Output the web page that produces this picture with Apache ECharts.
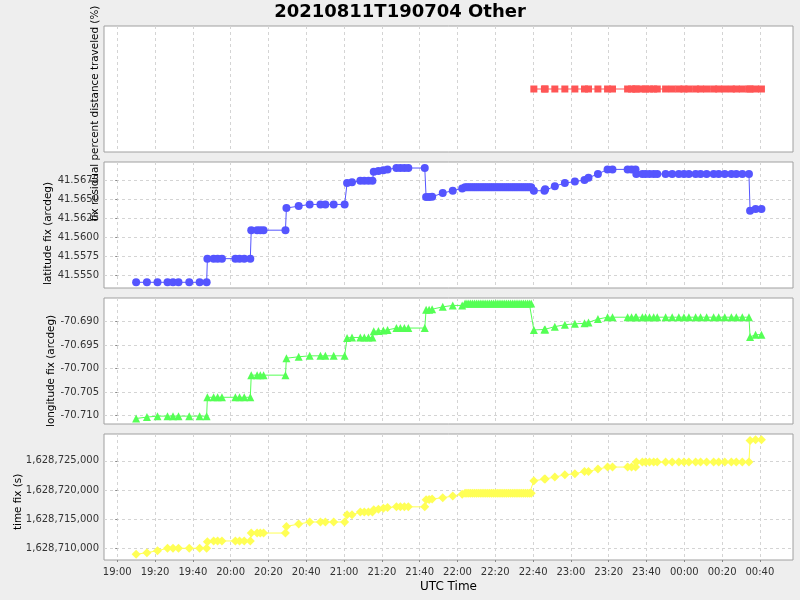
<!DOCTYPE html>
<html><head><meta charset="utf-8">
<script src="https://cdn.jsdelivr.net/npm/echarts@6/dist/echarts.min.js"></script>
<style>html,body{margin:0;padding:0;background:#eeeeee}#c{width:800px;height:600px}</style>
</head><body><div id="c"></div>
<script>
// record times in minutes after 2021-08-11 19:00 UTC
const times = [
  10, 15.7, 21.3, 26.6, 29.5, 32.4, 38.1, 43.6, 47.3,
  47.7, 51.0, 53.1, 55.4, 62.5, 64.7, 67.2, 70.4,
  70.9, 74.0, 75.7, 77.4, 89.0,
  89.5, 96.0, 101.8, 107.5, 110.1, 114.5, 120.3,
  121.6, 124.2, 128.6, 130.7, 132.9, 135.0,
  135.7, 138.2, 140.8, 143.0,
  147.7, 149.8, 151.9, 154.0, 162.7,
  163.4, 165.0, 166.6, 172.2, 177.5, 182.5,
  184, 185, 186, 187, 188, 189, 190, 191, 192, 193, 194, 195,
  196, 197, 198, 199, 200, 201, 202, 203, 204, 205, 206, 207,
  208, 209, 210, 211, 212, 213, 214, 215, 216, 217, 218, 219,
  220.4, 226.0, 226.4, 231.5, 236.8, 242.1, 247.2, 249.3, 254.3,
  259.4, 262.0, 270.0, 272.1, 274.2,
  274.6, 277.8, 279.5, 281.6, 283.8, 285.7, 290.1, 293.6, 297.1, 299.8, 302.4,
  306.0, 308.6, 311.8, 315.5, 318.2, 321.4, 324.9, 327.5, 330.7, 334.2,
  334.8, 337.7, 340.8
];
const latitude = [
  41.55408, 41.55408, 41.55408, 41.55408, 41.55408, 41.55408, 41.55408, 41.55408, 41.55408,
  41.55718, 41.55718, 41.55718, 41.55718, 41.55718, 41.55718, 41.55718, 41.55718,
  41.56092, 41.56092, 41.56092, 41.56092, 41.56092,
  41.56382, 41.56408, 41.5643, 41.5643, 41.5643, 41.5643, 41.5643,
  41.5671, 41.5672, 41.56741, 41.56741, 41.56741, 41.56741,
  41.5686, 41.5687, 41.5688, 41.5689,
  41.56908, 41.56908, 41.56908, 41.56908, 41.56908,
  41.56526, 41.56526, 41.5653, 41.5658, 41.5661, 41.5664,
  41.56655, 41.56655, 41.56655, 41.56655, 41.56655, 41.56655, 41.56655, 41.56655, 41.56655, 41.56655, 41.56655, 41.56655,
  41.56655, 41.56655, 41.56655, 41.56655, 41.56655, 41.56655, 41.56655, 41.56655, 41.56655, 41.56655, 41.56655, 41.56655,
  41.56655, 41.56655, 41.56655, 41.56655, 41.56655, 41.56655, 41.56655, 41.56655, 41.56655, 41.56655, 41.56655, 41.56655,
  41.5661, 41.5661, 41.5663, 41.5667, 41.5671, 41.5673, 41.5675, 41.5678, 41.5683,
  41.5689, 41.5689, 41.5689, 41.5689, 41.5689,
  41.56829, 41.56829, 41.56829, 41.56829, 41.56829, 41.56829, 41.56829, 41.56829, 41.56829, 41.56829, 41.56829,
  41.56829, 41.56829, 41.56829, 41.56829, 41.56829, 41.56829, 41.56829, 41.56829, 41.56829, 41.56829,
  41.56346, 41.5637, 41.5637
];
const longitude = [
  -70.7106, -70.7103, -70.7101, -70.7101, -70.7101, -70.7101, -70.7101, -70.7101, -70.7101,
  -70.7061, -70.7061, -70.7061, -70.7061, -70.7061, -70.7061, -70.7061, -70.7061,
  -70.7014, -70.7014, -70.7014, -70.7014, -70.7014,
  -70.6978, -70.6975, -70.6973, -70.6973, -70.6973, -70.6973, -70.6973,
  -70.6935, -70.6934, -70.6934, -70.6934, -70.6934, -70.6934,
  -70.6921, -70.6920, -70.6919, -70.6918,
  -70.6914, -70.6914, -70.6914, -70.6914, -70.6914,
  -70.6875, -70.6875, -70.6874, -70.6869, -70.6866, -70.6866,
  -70.6862, -70.6862, -70.6862, -70.6862, -70.6862, -70.6862, -70.6862, -70.6862, -70.6862, -70.6862, -70.6862, -70.6862,
  -70.6862, -70.6862, -70.6862, -70.6862, -70.6862, -70.6862, -70.6862, -70.6862, -70.6862, -70.6862, -70.6862, -70.6862,
  -70.6862, -70.6862, -70.6862, -70.6862, -70.6862, -70.6862, -70.6862, -70.6862, -70.6862, -70.6862, -70.6862, -70.6862,
  -70.6918, -70.6917, -70.6917, -70.6911, -70.6907, -70.6905, -70.6904, -70.6902, -70.6895,
  -70.6891, -70.6891, -70.6891, -70.6891, -70.6891,
  -70.6891, -70.6891, -70.6891, -70.6891, -70.6891, -70.6891, -70.6891, -70.6891, -70.6891, -70.6891, -70.6891,
  -70.6891, -70.6891, -70.6891, -70.6891, -70.6891, -70.6891, -70.6891, -70.6891, -70.6891, -70.6891,
  -70.6933, -70.6928, -70.6928
];
const timeFix = [
  1628708969, 1628709244, 1628709588, 1628710000, 1628710000, 1628710000, 1628710000, 1628710000, 1628710000,
  1628711134, 1628711254, 1628711254, 1628711254, 1628711254, 1628711254, 1628711254, 1628711254,
  1628712612, 1628712612, 1628712612, 1628712612, 1628712612,
  1628713746, 1628714158, 1628714502, 1628714502, 1628714502, 1628714502, 1628714502,
  1628715740, 1628715740, 1628716203, 1628716203, 1628716203, 1628716203,
  1628716600, 1628716700, 1628716850, 1628716990,
  1628717100, 1628717100, 1628717100, 1628717100, 1628717100,
  1628718300, 1628718350, 1628718450, 1628718660, 1628718950, 1628719244,
  1628719416, 1628719416, 1628719416, 1628719416, 1628719416, 1628719416, 1628719416, 1628719416, 1628719416, 1628719416, 1628719416, 1628719416,
  1628719416, 1628719416, 1628719416, 1628719416, 1628719416, 1628719416, 1628719416, 1628719416, 1628719416, 1628719416, 1628719416, 1628719416,
  1628719416, 1628719416, 1628719416, 1628719416, 1628719416, 1628719416, 1628719416, 1628719416, 1628719416, 1628719416, 1628719416, 1628719416,
  1628721564, 1628721856, 1628721856, 1628722200, 1628722595, 1628722766, 1628723162, 1628723162, 1628723574,
  1628723918, 1628723918, 1628723918, 1628723918, 1628723918,
  1628724777, 1628724777, 1628724777, 1628724777, 1628724777, 1628724777, 1628724777, 1628724777, 1628724777, 1628724777, 1628724777,
  1628724777, 1628724777, 1628724777, 1628724777, 1628724777, 1628724777, 1628724777, 1628724777, 1628724777, 1628724777,
  1628728488, 1628728608, 1628728608
];
const percentTimes = [
  220.4, 226.0, 226.4, 231.5, 236.8, 242.1, 247.2, 249.3, 254.3,
  259.4, 262.0, 270.0, 272.1, 274.2,
  274.6, 277.8, 279.5, 281.6, 283.8, 285.7, 290.1, 293.6, 297.1, 299.8, 302.4,
  306.0, 308.6, 311.8, 315.5, 318.2, 321.4, 324.9, 327.5, 330.7, 334.2,
  334.8, 337.7, 340.8
];
const percentValues = [
  0, 0, 0, 0, 0, 0, 0, 0, 0,
  0, 0, 0, 0, 0,
  0, 0, 0, 0, 0, 0, 0, 0, 0, 0, 0,
  0, 0, 0, 0, 0, 0, 0, 0, 0, 0,
  0, 0, 0
];
const xTickMinutes = [0, 20, 40, 60, 80, 100, 120, 140, 160, 180, 200, 220, 240, 260, 280, 300, 320, 340];
const xTickLabels = ['19:00','19:20','19:40','20:00','20:20','20:40','21:00','21:20','21:40','22:00','22:20','22:40','23:00','23:20','23:40','00:00','00:20','00:40'];
const latTicks = [41.555, 41.5575, 41.56, 41.5625, 41.565, 41.5675];
const lonTicks = [-70.71, -70.705, -70.70, -70.695, -70.69];
const timeFixTicks = [1628710000, 1628715000, 1628720000, 1628725000];

const FONT = 'DejaVu Sans';
const chart = echarts.init(document.getElementById('c'), null, {renderer: 'canvas'});
const tops = [26, 162, 298, 434];
const grids = tops.map(t => ({left: 104, width: 689, top: t, height: 126, show: true,
  backgroundColor: '#ffffff', borderColor: '#a0a0a0', borderWidth: 1, containLabel: false, outerBoundsMode: 'none'}));
const gridLine = {show: true, lineStyle: {color: '#d4d4d4', type: [3, 3], width: 1}};
const xAxes = tops.map((t, i) => ({
  type: 'value', gridIndex: i, min: -7, max: 357.5,
  axisLine: {show: false},
  axisTick: {show: i === 3, length: 2, customValues: xTickMinutes, lineStyle: {color: '#888'}},
  axisLabel: {show: i === 3, customValues: xTickMinutes, fontSize: 10, fontFamily: FONT, color: '#333', margin: 7,
    formatter: v => xTickLabels[xTickMinutes.indexOf(v)]},
  splitLine: gridLine,
  name: i === 3 ? 'UTC Time' : '', nameLocation: 'middle', nameGap: 21,
  nameTextStyle: {fontSize: 12, fontFamily: FONT, color: '#000'}
}));
function yAx(i, min, max, ticks, fmt) {
  return {type: 'value', gridIndex: i, min: min, max: max,
    axisLine: {show: false},
    axisTick: {show: true, length: 2, customValues: ticks, lineStyle: {color: '#888'}},
    axisLabel: {customValues: ticks, fontSize: 10, fontFamily: FONT, color: '#333', margin: 5, formatter: fmt},
    splitLine: gridLine};
}
const yAxes = [
  {type: 'value', gridIndex: 0, min: -1, max: 1, axisLine: {show: false}, axisTick: {show: false},
   axisLabel: {show: false}, splitLine: {show: false}},
  yAx(1, 41.55333, 41.56987, latTicks, v => v.toFixed(4)),
  yAx(2, -70.71177, -70.68502, lonTicks, v => v.toFixed(3)),
  yAx(3, 1628707990, 1628729588, timeFixTicks, v => Math.round(v).toLocaleString('en-US'))
];
function ser(i, xs, ys, color, symbol, size) {
  return {type: 'line', xAxisIndex: i, yAxisIndex: i, data: xs.map((x, k) => [x, ys[k]]),
    symbol: symbol, symbolSize: size, showSymbol: true,
    itemStyle: {color: color, borderWidth: 0}, lineStyle: {color: color, width: 1},
    emphasis: {disabled: true}, silent: true, animation: false};
}
const yName = (text, x, y) => ({type: 'text', x: x, y: y, rotation: Math.PI / 2,
  style: {text: text, fontSize: 10.4, fontFamily: FONT, fill: '#000', align: 'left', verticalAlign: 'middle'}});
chart.setOption({
  backgroundColor: '#eeeeee',
  animation: false,
  title: {text: '20210811T190704 Other', left: 'center', top: 3, padding: 0,
    textStyle: {fontSize: 18, fontWeight: 'bold', fontFamily: FONT, color: '#000'}},
  grid: grids, xAxis: xAxes, yAxis: yAxes,
  series: [
    ser(0, percentTimes, percentValues, '#FF5555', 'rect', 7),
    ser(1, times, latitude, '#5555FF', 'circle', 8),
    ser(2, times, longitude, '#55FF55', 'triangle', 8),
    ser(3, times, timeFix, '#FFFF55', 'diamond', 9)
  ],
  graphic: [
    yName('fix residual percent distance traveled (%)', 95, 221),
    yName('latitude fix (arcdeg)', 48, 285),
    yName('longitude fix (arcdeg)', 51, 427),
    yName('time fix (s)', 18.5, 530)
  ]
});
</script></body></html>
